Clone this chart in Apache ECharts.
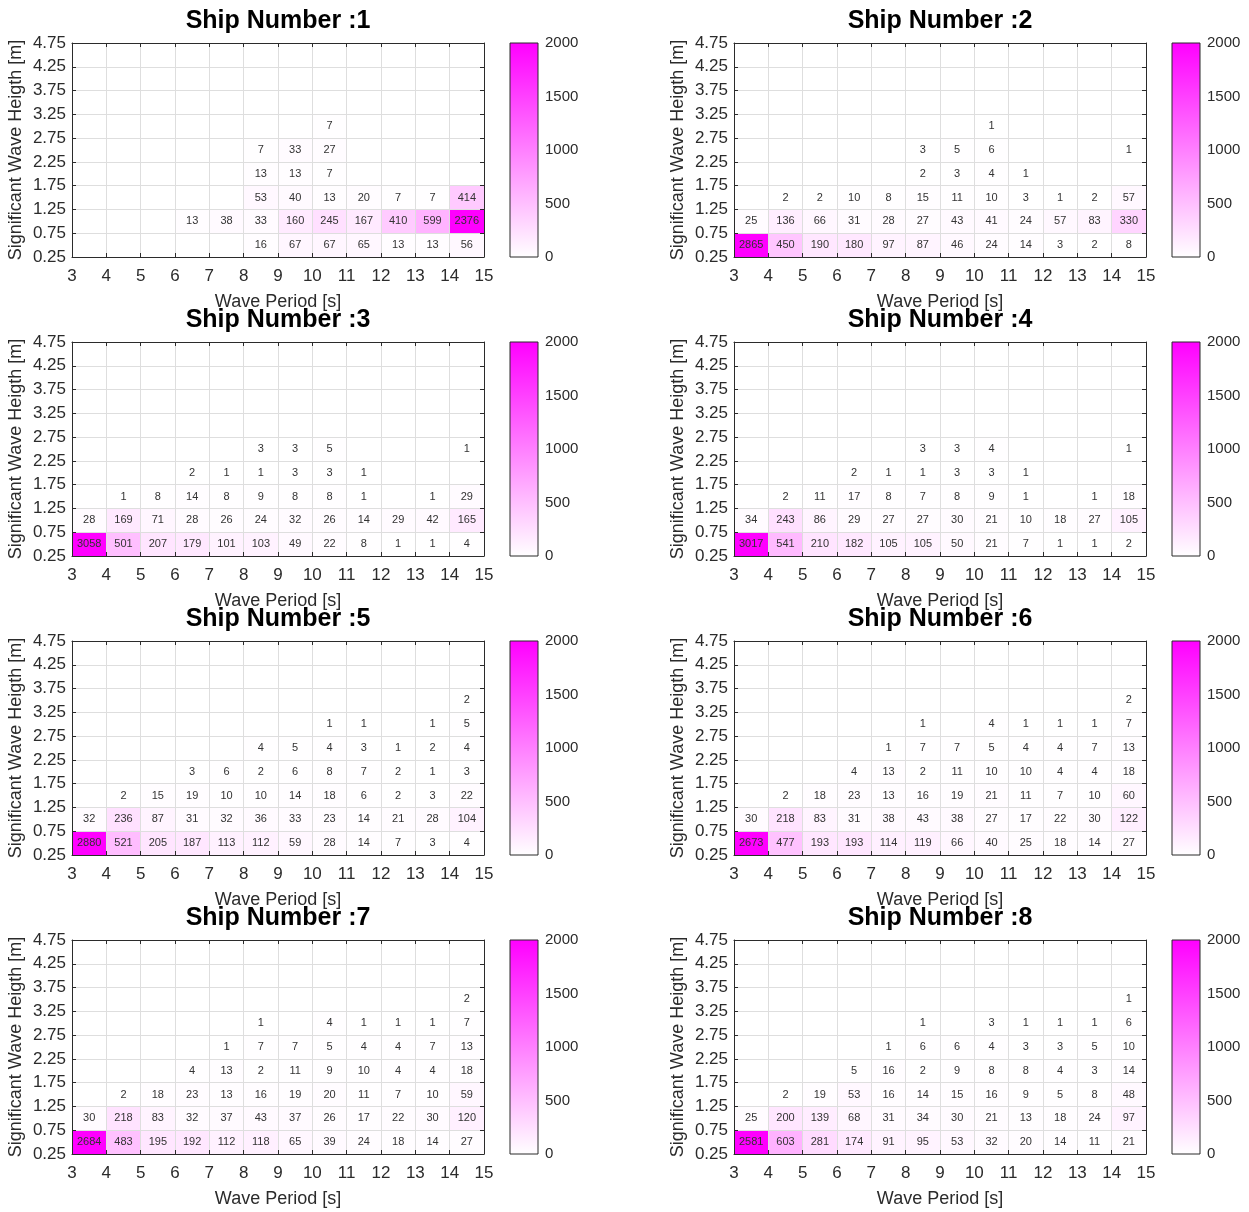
<!DOCTYPE html>
<html>
<head>
<meta charset="utf-8">
<title>Wave scatter diagrams per ship</title>
<script src="https://cdn.jsdelivr.net/npm/echarts@6/dist/echarts.min.js"></script>
<style>
  html, body { margin: 0; padding: 0; background: #ffffff; }
  #chart { width: 1249px; height: 1212px; }
</style>
</head>
<body>
<div id="chart"></div>
<script>
// Lower edges of the wave period bins [s] and significant wave height bins [m]
const periodEdges = [3, 4, 5, 6, 7, 8, 9, 10, 11, 12, 13, 14];
const heightEdges = [0.25, 0.75, 1.25, 1.75, 2.25, 2.75, 3.25, 3.75, 4.25];
const colorTicks = [0, 500, 1000, 1500, 2000];
const shipTitles = ['Ship Number :1', 'Ship Number :2', 'Ship Number :3', 'Ship Number :4',
                    'Ship Number :5', 'Ship Number :6', 'Ship Number :7', 'Ship Number :8'];

// Occurrence counts: one row per height bin (lowest first), one column per period bin
const ship1 = [
  [0, 0, 0, 0, 0, 16, 67, 67, 65, 13, 13, 56],
  [0, 0, 0, 13, 38, 33, 160, 245, 167, 410, 599, 2376],
  [0, 0, 0, 0, 0, 53, 40, 13, 20, 7, 7, 414],
  [0, 0, 0, 0, 0, 13, 13, 7, 0, 0, 0, 0],
  [0, 0, 0, 0, 0, 7, 33, 27, 0, 0, 0, 0],
  [0, 0, 0, 0, 0, 0, 0, 7, 0, 0, 0, 0]
];
const ship2 = [
  [2865, 450, 190, 180, 97, 87, 46, 24, 14, 3, 2, 8],
  [25, 136, 66, 31, 28, 27, 43, 41, 24, 57, 83, 330],
  [0, 2, 2, 10, 8, 15, 11, 10, 3, 1, 2, 57],
  [0, 0, 0, 0, 0, 2, 3, 4, 1, 0, 0, 0],
  [0, 0, 0, 0, 0, 3, 5, 6, 0, 0, 0, 1],
  [0, 0, 0, 0, 0, 0, 0, 1, 0, 0, 0, 0]
];
const ship3 = [
  [3058, 501, 207, 179, 101, 103, 49, 22, 8, 1, 1, 4],
  [28, 169, 71, 28, 26, 24, 32, 26, 14, 29, 42, 165],
  [0, 1, 8, 14, 8, 9, 8, 8, 1, 0, 1, 29],
  [0, 0, 0, 2, 1, 1, 3, 3, 1, 0, 0, 0],
  [0, 0, 0, 0, 0, 3, 3, 5, 0, 0, 0, 1]
];
const ship4 = [
  [3017, 541, 210, 182, 105, 105, 50, 21, 7, 1, 1, 2],
  [34, 243, 86, 29, 27, 27, 30, 21, 10, 18, 27, 105],
  [0, 2, 11, 17, 8, 7, 8, 9, 1, 0, 1, 18],
  [0, 0, 0, 2, 1, 1, 3, 3, 1, 0, 0, 0],
  [0, 0, 0, 0, 0, 3, 3, 4, 0, 0, 0, 1]
];
const ship5 = [
  [2880, 521, 205, 187, 113, 112, 59, 28, 14, 7, 3, 4],
  [32, 236, 87, 31, 32, 36, 33, 23, 14, 21, 28, 104],
  [0, 2, 15, 19, 10, 10, 14, 18, 6, 2, 3, 22],
  [0, 0, 0, 3, 6, 2, 6, 8, 7, 2, 1, 3],
  [0, 0, 0, 0, 0, 4, 5, 4, 3, 1, 2, 4],
  [0, 0, 0, 0, 0, 0, 0, 1, 1, 0, 1, 5],
  [0, 0, 0, 0, 0, 0, 0, 0, 0, 0, 0, 2]
];
const ship6 = [
  [2673, 477, 193, 193, 114, 119, 66, 40, 25, 18, 14, 27],
  [30, 218, 83, 31, 38, 43, 38, 27, 17, 22, 30, 122],
  [0, 2, 18, 23, 13, 16, 19, 21, 11, 7, 10, 60],
  [0, 0, 0, 4, 13, 2, 11, 10, 10, 4, 4, 18],
  [0, 0, 0, 0, 1, 7, 7, 5, 4, 4, 7, 13],
  [0, 0, 0, 0, 0, 1, 0, 4, 1, 1, 1, 7],
  [0, 0, 0, 0, 0, 0, 0, 0, 0, 0, 0, 2]
];
const ship7 = [
  [2684, 483, 195, 192, 112, 118, 65, 39, 24, 18, 14, 27],
  [30, 218, 83, 32, 37, 43, 37, 26, 17, 22, 30, 120],
  [0, 2, 18, 23, 13, 16, 19, 20, 11, 7, 10, 59],
  [0, 0, 0, 4, 13, 2, 11, 9, 10, 4, 4, 18],
  [0, 0, 0, 0, 1, 7, 7, 5, 4, 4, 7, 13],
  [0, 0, 0, 0, 0, 1, 0, 4, 1, 1, 1, 7],
  [0, 0, 0, 0, 0, 0, 0, 0, 0, 0, 0, 2]
];
const ship8 = [
  [2581, 603, 281, 174, 91, 95, 53, 32, 20, 14, 11, 21],
  [25, 200, 139, 68, 31, 34, 30, 21, 13, 18, 24, 97],
  [0, 2, 19, 53, 16, 14, 15, 16, 9, 5, 8, 48],
  [0, 0, 0, 5, 16, 2, 9, 8, 8, 4, 3, 14],
  [0, 0, 0, 0, 1, 6, 6, 4, 3, 3, 5, 10],
  [0, 0, 0, 0, 0, 1, 0, 3, 1, 1, 1, 6],
  [0, 0, 0, 0, 0, 0, 0, 0, 0, 0, 0, 1]
];
const ships = [ship1, ship2, ship3, ship4, ship5, ship6, ship7, ship8];

// ---- appearance -------------------------------------------------------
const FONT = '"Liberation Sans", Arial, Helvetica, sans-serif';
const AXIS_COLOR = '#2b2b2b';
const GRID_COLOR = '#dedede';
const MAP_COLORS = ['#ffffff', '#ff00ff'];
const PERIOD_STEP = 1;
const HEIGHT_STEP = 0.5;

const colLeft = [72, 734];
const rowTop = [43, 342, 641, 940];
const plotW = 412, plotH = 214;
const barGap = 438, barW = 28;

function renderCell(params, api) {
  const x0 = api.value(0), y0 = api.value(1), v = api.value(2);
  const a = api.coord([x0, y0]);
  const b = api.coord([x0 + PERIOD_STEP, y0 + HEIGHT_STEP]);
  return {
    type: 'group',
    children: [
      { type: 'rect',
        shape: { x: a[0], y: b[1], width: b[0] - a[0], height: a[1] - b[1] },
        style: { fill: api.visual('color') } },
      { type: 'text',
        x: (a[0] + b[0]) / 2, y: (a[1] + b[1]) / 2,
        style: { text: String(v), fill: '#333333', fontSize: 11, fontFamily: FONT,
                 align: 'center', verticalAlign: 'middle' } }
    ]
  };
}

function renderColorBar(params, api) {
  const a = api.coord([0, api.value(1)]);
  const b = api.coord([1, api.value(2)]);
  return {
    type: 'rect',
    shape: { x: a[0], y: b[1], width: b[0] - a[0], height: a[1] - b[1] },
    style: {
      fill: { type: 'linear', x: 0, y: 1, x2: 0, y2: 0,
              colorStops: [{ offset: 0, color: MAP_COLORS[0] }, { offset: 1, color: MAP_COLORS[1] }] },
      stroke: AXIS_COLOR, lineWidth: 1
    }
  };
}

const option = {
  animation: false,
  backgroundColor: '#ffffff',
  title: [], grid: [], xAxis: [], yAxis: [], visualMap: [], series: []
};

const tickLabel = { fontFamily: FONT, fontSize: 17, color: AXIS_COLOR };
const nameStyle = { fontFamily: FONT, fontSize: 18, color: AXIS_COLOR };

ships.forEach((counts, i) => {
  const L = colLeft[i % 2];
  const T = rowTop[Math.floor(i / 2)];
  const g = option.grid.length;
  option.grid.push({ left: L, top: T, width: plotW, height: plotH });
  option.grid.push({ left: L + barGap, top: T, width: barW, height: plotH });

  option.title.push({
    text: shipTitles[i], left: L + plotW / 2, top: T - 34, textAlign: 'center', padding: 0,
    textStyle: { fontFamily: FONT, fontSize: 25, fontWeight: 'bold', color: '#000000' }
  });

  const xi = option.xAxis.length;
  const yi = option.yAxis.length;
  const pMin = periodEdges[0], pMax = periodEdges[periodEdges.length - 1] + PERIOD_STEP;
  const hMin = heightEdges[0], hMax = heightEdges[heightEdges.length - 1] + HEIGHT_STEP;

  option.xAxis.push({
    type: 'value', gridIndex: g, min: pMin, max: pMax, interval: PERIOD_STEP, position: 'bottom', z: 3,
    name: 'Wave Period [s]', nameLocation: 'middle', nameGap: 36, nameTextStyle: nameStyle,
    axisLine: { show: true, onZero: false, lineStyle: { color: AXIS_COLOR, width: 1 } },
    axisTick: { show: true, inside: true, length: 4, lineStyle: { color: AXIS_COLOR } },
    axisLabel: Object.assign({ margin: 11 }, tickLabel),
    splitLine: { show: true, lineStyle: { color: GRID_COLOR, width: 1 } }
  });
  option.xAxis.push({
    type: 'value', gridIndex: g, min: pMin, max: pMax, interval: PERIOD_STEP, position: 'top', z: 3,
    axisLine: { show: true, onZero: false, lineStyle: { color: AXIS_COLOR, width: 1 } },
    axisTick: { show: true, inside: true, length: 4, lineStyle: { color: AXIS_COLOR } },
    axisLabel: { show: false }, splitLine: { show: false }
  });
  option.xAxis.push({ type: 'value', gridIndex: g + 1, min: 0, max: 1, show: false });

  option.yAxis.push({
    type: 'value', gridIndex: g, min: hMin, max: hMax, interval: HEIGHT_STEP, position: 'left', z: 3,
    name: 'Significant Wave Heigth [m]', nameLocation: 'middle', nameGap: 47, nameTextStyle: nameStyle,
    axisLine: { show: true, onZero: false, lineStyle: { color: AXIS_COLOR, width: 1 } },
    axisTick: { show: true, inside: true, length: 4, lineStyle: { color: AXIS_COLOR } },
    axisLabel: Object.assign({ margin: 6, formatter: v => v.toFixed(2) }, tickLabel),
    splitLine: { show: true, lineStyle: { color: GRID_COLOR, width: 1 } }
  });
  option.yAxis.push({
    type: 'value', gridIndex: g, min: hMin, max: hMax, interval: HEIGHT_STEP, position: 'right', z: 3,
    axisLine: { show: true, onZero: false, lineStyle: { color: AXIS_COLOR, width: 1 } },
    axisTick: { show: true, inside: true, length: 4, lineStyle: { color: AXIS_COLOR } },
    axisLabel: { show: false }, splitLine: { show: false }
  });
  option.yAxis.push({
    type: 'value', gridIndex: g + 1, position: 'right',
    min: colorTicks[0], max: colorTicks[colorTicks.length - 1], interval: colorTicks[1] - colorTicks[0],
    axisLine: { show: false }, axisTick: { show: false }, splitLine: { show: false },
    axisLabel: { margin: 7, fontFamily: FONT, fontSize: 15, color: AXIS_COLOR, formatter: v => String(v) }
  });

  const cells = [];
  counts.forEach((row, r) => row.forEach((v, c) => {
    if (v > 0) cells.push([periodEdges[c], heightEdges[r], v]);
  }));

  option.visualMap.push({
    type: 'continuous', show: false, seriesIndex: option.series.length, dimension: 2,
    min: colorTicks[0], max: colorTicks[colorTicks.length - 1], inRange: { color: MAP_COLORS }
  });
  option.series.push({
    type: 'custom', xAxisIndex: xi, yAxisIndex: yi, z: 2, renderItem: renderCell,
    encode: { x: 0, y: 1 }, data: cells
  });
  option.series.push({
    type: 'custom', xAxisIndex: xi + 2, yAxisIndex: yi + 2, renderItem: renderColorBar,
    encode: { x: 0, y: [1, 2] },
    data: [[0, colorTicks[0], colorTicks[colorTicks.length - 1]]]
  });
});

const chart = echarts.init(document.getElementById('chart'), null, { renderer: 'canvas' });
chart.setOption(option);
</script>
</body>
</html>
